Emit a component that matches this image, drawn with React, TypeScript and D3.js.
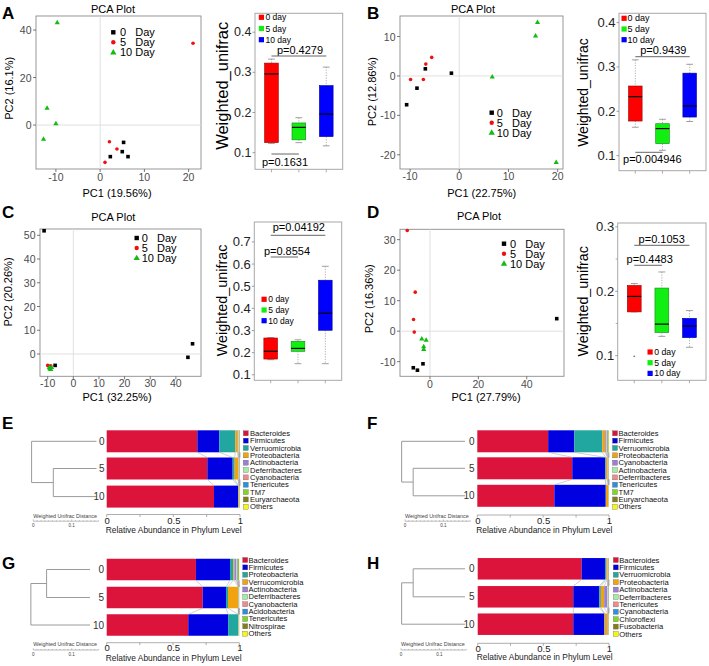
import React from "react";
import * as d3 from "d3";

const FONT = "'Liberation Sans', Arial, Helvetica, sans-serif";

// ---------------- PCA scores [PC1, PC2] ----------------
const dayLabels = ["0", "5", "10"];
const pcaA0 = [[5.3, -7.3], [5.0, -11.2], [2.3, -13.3], [6.3, -13.3]];
const pcaA5 = [[21.0, 34.4], [2.1, -7.0], [3.8, -10.1], [1.1, -15.7]];
const pcaA10 = [[-9.7, 43.2], [-12.0, 7.2], [-10.0, 0.7], [-12.8, -5.9]];
const pcaB0 = [[-10.7, -7.3], [-8.6, -3.1], [-6.9, 1.8], [-1.6, 0.7]];
const pcaB5 = [[-9.9, -0.9], [-7.3, -0.9], [-6.8, 3.0], [-5.6, 4.7]];
const pcaB10 = [[6.7, -0.2], [15.9, 13.6], [15.5, 10.2], [19.7, -21.9]];
const pcaC0 = [[-11.4, 51.9], [-7.1, -4.8], [44.7, -1.4], [46.5, 4.3]];
const pcaC5 = [[-10.0, -4.8], [-9.6, -5.1], [-9.2, -5.4], [-8.8, -5.0]];
const pcaC10 = [[-9.1, -6.2], [-8.5, -5.6], [-8.8, -6.4], [-9.4, -5.7]];
const pcaD0 = [[-6.9, -12.0], [-5.2, -12.8], [-2.9, -10.7], [52.4, 4.1]];
const pcaD5 = [[-9.4, 33.0], [-6.1, 12.8], [-6.8, 3.8], [-6.5, -0.3]];
const pcaD10 = [[-3.4, -2.5], [-1.6, -2.9], [-2.6, -5.0], [-2.6, -5.9]];

const pcaXTicksA = [-10, 0, 10, 20];
const pcaYTicksA = [0, 20, 40];
const pcaXTicksB = [-10, 0, 10, 20];
const pcaYTicksB = [-20, -10, 0, 10];
const pcaXTicksC = [-10, 0, 10, 20, 30, 40];
const pcaYTicksC = [0, 10, 20, 30, 40, 50];
const pcaXTicksD = [0, 20, 40];
const pcaYTicksD = [-10, 0, 10, 20, 30];
const pcaXLabels = ["PC1 (19.56%)", "PC1 (22.75%)", "PC1 (32.25%)", "PC1 (27.79%)"];
const pcaYLabels = ["PC2 (16.1%)", "PC2 (12.86%)", "PC2 (20.26%)", "PC2 (16.36%)"];

// ---------------- Weighted UniFrac boxes [min, q1, median, q3, max] ----------------
const boxGroups = ["0 day", "5 day", "10 day"];
const boxA = [[0.123, 0.125, 0.296, 0.323, 0.333], [0.125, 0.132, 0.163, 0.174, 0.187], [0.117, 0.14, 0.196, 0.267, 0.313]];
const boxB = [[0.164, 0.178, 0.233, 0.257, 0.316], [0.112, 0.127, 0.161, 0.172, 0.182], [0.177, 0.187, 0.212, 0.286, 0.306]];
const boxC = [[0.168, 0.171, 0.206, 0.266, 0.268], [0.15, 0.206, 0.219, 0.251, 0.258], [0.15, 0.301, 0.378, 0.527, 0.59]];
const boxD = [[0.168, 0.168, 0.192, 0.209, 0.212], [0.13, 0.136, 0.149, 0.205, 0.23], [0.113, 0.128, 0.146, 0.158, 0.17]];
const outlierD = [[0, 0.099]];
const boxTicksA = [0.1, 0.2, 0.3, 0.4];
const boxTicksB = [0.1, 0.2, 0.3, 0.4];
const boxTicksC = [0.1, 0.2, 0.3, 0.4, 0.5, 0.6, 0.7];
const boxTicksD = [0.1, 0.2, 0.3];
const boxMinorD = [0.15, 0.25];
const pA = ["p=0.4279", "p=0.1631"];
const pB = ["p=0.9439", "p=0.004946"];
const pC = ["p=0.04192", "p=0.8554"];
const pD = ["p=0.1053", "p=0.4483"];

// ---------------- Phylum composition ----------------
const sampleLabels = ["0", "5", "10"];
const phylaE = ["Bacteroides", "Firmicutes", "Verruomicrobia", "Proteobacteria", "Actinobacteria", "Deferribacteres", "Cyanobacteria", "Tenericutes", "TM7", "Euryarchaeota", "Others"];
const phylaF = ["Bacteroides", "Firmicutes", "Verruomicrobia", "Proteobacteria", "Cyanobacteria", "Actinobacteria", "Deferribacteres", "Tenericutes", "TM7", "Euryarchaeota", "Others"];
const phylaG = ["Bacteroides", "Firmicutes", "Proteobacteria", "Verrucomicrobia", "Actinobacteria", "Deferribacteres", "Cyanobacteria", "Acidobacteria", "Tenericutes", "Nitrospirae", "Others"];
const phylaH = ["Bacteroides", "Firmicutes", "Verruomicrobia", "Proteobacteria", "Actinobacteria", "Deferribacteres", "Tenericutes", "Cyanobacteria", "Chloroflexi", "Fusobacteria", "Others"];
const stackE = [
  [0.68, 0.165, 0.12, 0.018, 0.004, 0.004, 0.003, 0.002, 0.001, 0.002, 0.001],
  [0.755, 0.19, 0.015, 0.025, 0.004, 0.003, 0.002, 0.002, 0.001, 0.002, 0.001],
  [0.805, 0.18, 0.002, 0.005, 0.002, 0.001, 0.001, 0.001, 0.001, 0.001, 0.001],
];
const stackF = [
  [0.538, 0.198, 0.213, 0.022, 0.006, 0.005, 0.006, 0.004, 0.003, 0.003, 0.002],
  [0.721, 0.249, 0.006, 0.012, 0.003, 0.002, 0.002, 0.002, 0.001, 0.001, 0.001],
  [0.585, 0.39, 0.002, 0.016, 0.001, 0.001, 0.001, 0.001, 0.001, 0.001, 0.001],
];
const stackG = [
  [0.673, 0.257, 0.025, 0.008, 0.015, 0.005, 0.004, 0.003, 0.004, 0.004, 0.002],
  [0.724, 0.176, 0.015, 0.075, 0.003, 0.002, 0.001, 0.001, 0.001, 0.001, 0.001],
  [0.615, 0.301, 0.075, 0.002, 0.001, 0.001, 0.001, 0.001, 0.001, 0.001, 0.001],
];
const stackH = [
  [0.792, 0.178, 0.008, 0.008, 0.004, 0.002, 0.002, 0.001, 0.001, 0.003, 0.001],
  [0.728, 0.198, 0.012, 0.025, 0.025, 0.004, 0.002, 0.002, 0.001, 0.002, 0.001],
  [0.728, 0.236, 0.003, 0.022, 0.004, 0.001, 0.001, 0.001, 0.001, 0.002, 0.001],
];
// dendrogram merge heights [inner, root] (weighted UniFrac distance)
const dendE = [0.1125, 0.169];
const dendF = [0.135, 0.165];
const dendG = [0.113, 0.154];
const dendH = [0.135, 0.165];

// ---------------- styles ----------------
const pcaColors = ["#000000", "#EE1111", "#11BB11"];
const boxColors = ["#FF0000", "#11EE11", "#0000FF"];
const boxStroke = ["#990000", "#118811", "#000099"];
const phylumColors = ["#DC143C", "#0000E0", "#21A7A0", "#F2A20C", "#9B7FD6", "#A5EBA5", "#EE8C8C", "#2B8FE3", "#7ED626", "#7F7F1F", "#F5F516"];

function Marker({ kind, x, y, size, color }: any) {
  if (kind === 0) return <rect x={x - size / 2} y={y - size / 2} width={size} height={size} fill={color} />;
  if (kind === 1) return <circle cx={x} cy={y} r={size / 2} fill={color} />;
  const d = d3.symbol().type(d3.symbolTriangle).size(size * size * 0.55)() as string;
  return <path d={d} transform={`translate(${x},${y + 0.3})`} fill={color} />;
}

function PcaPanel({ c }: any) {
  const [x0, y0, x1, y1] = c.box;
  const xs = d3.scaleLinear().domain(c.xDomain).range([x0, x1]);
  const ys = d3.scaleLinear().domain(c.yDomain).range([y1, y0]);
  return (
    <g>
      <text x={c.letter[1]} y={c.letter[2]} fontSize={17} fontWeight="bold">{c.letter[0]}</text>
      <text x={c.title[0]} y={c.title[1]} fontSize={11} textAnchor="middle">PCA Plot</text>
      <rect x={x0} y={y0} width={x1 - x0} height={y1 - y0} fill="#fff" stroke="#8c8c8c" strokeWidth={0.9} />
      <line x1={xs(0)} x2={xs(0)} y1={y0} y2={y1} stroke="#dcdcdc" strokeWidth={0.9} />
      <line x1={x0} x2={x1} y1={ys(0)} y2={ys(0)} stroke="#dcdcdc" strokeWidth={0.9} />
      {c.xTicks.map((t: number) => (
        <g key={"x" + t}>
          <line x1={xs(t)} x2={xs(t)} y1={y1} y2={y1 + 3} stroke="#555" strokeWidth={0.8} />
          <text x={xs(t)} y={y1 + c.xTickDy} fontSize={10.5} fill="#4d4d4d" textAnchor="middle">{t}</text>
        </g>
      ))}
      {c.yTicks.map((t: number) => (
        <g key={"y" + t}>
          <line x1={x0 - 3} x2={x0} y1={ys(t)} y2={ys(t)} stroke="#555" strokeWidth={0.8} />
          <text x={x0 - 4.5} y={ys(t)} fontSize={10.5} fill="#4d4d4d" textAnchor="end" dominantBaseline="central">{t}</text>
        </g>
      ))}
      <text x={c.xLab[0]} y={c.xLab[1]} fontSize={11} textAnchor="middle">{c.xLabel}</text>
      <text transform={`translate(${c.yLab[0]},${c.yLab[1]}) rotate(-90)`} fontSize={11} textAnchor="middle" dominantBaseline="central">{c.yLabel}</text>
      {c.series.map((pts: number[][], g: number) =>
        pts.map((p, i) => (
          <Marker key={g + "-" + i} kind={g} x={xs(p[0])} y={ys(p[1])} size={g === 2 ? 4.6 : 3.6} color={pcaColors[g]} />
        ))
      )}
      {dayLabels.map((d, g) => (
        <g key={"l" + d}>
          <Marker kind={g} x={c.legend[0]} y={c.legend[1] + g * 10} size={g === 2 ? 5.6 : 4.4} color={pcaColors[g]} />
          <text x={c.legend[2]} y={c.legend[1] + g * 10} fontSize={11} dominantBaseline="central">{d}</text>
          <text x={c.legend[2] + 15.3} y={c.legend[1] + g * 10} fontSize={11} dominantBaseline="central">Day</text>
        </g>
      ))}
    </g>
  );
}

function BoxPanel({ c }: any) {
  const [x0, y0, x1, y1] = c.frame;
  const xs = d3.scalePoint<string>().domain(boxGroups).range([x0, x1]).padding(0.6);
  const ys = d3.scaleLinear().domain(c.yDomain).range([y1, y0]);
  const bw = xs.step() * 0.5;
  const cx = (i: number) => xs(boxGroups[i]) as number;
  return (
    <g>
      <rect x={x0} y={y0} width={x1 - x0} height={y1 - y0} fill="#fff" stroke="#a8a8a8" strokeWidth={1} />
      {c.ticks.map((t: number) => (
        <g key={"t" + t}>
          <line x1={x0 - 2.5} x2={x0} y1={ys(t)} y2={ys(t)} stroke="#888" strokeWidth={0.8} />
          <text x={x0 - 3.5} y={ys(t)} fontSize={c.tickFont} textAnchor="end" dominantBaseline="central" fill="#222">{t}</text>
        </g>
      ))}
      {(c.minor || []).map((t: number) => (
        <line key={"m" + t} x1={x0 - 2} x2={x0} y1={ys(t)} y2={ys(t)} stroke="#999" strokeWidth={0.8} />
      ))}
      {boxGroups.map((g, i) => (
        <line key={"xt" + g} x1={cx(i)} x2={cx(i)} y1={y1} y2={y1 + 3} stroke="#999" strokeWidth={0.8} />
      ))}
      <text transform={`translate(${c.yTitle[0]},${c.yTitle[1]}) rotate(-90)`} fontSize={c.yTitle[2]} textAnchor="middle" dominantBaseline="central">Weighted_unifrac</text>
      {c.stats.map((s: number[], i: number) => (
        <g key={"b" + i}>
          <line x1={cx(i)} x2={cx(i)} y1={ys(s[4])} y2={ys(s[3])} stroke="#9a9a9a" strokeWidth={0.8} strokeDasharray="1.2 1.4" />
          <line x1={cx(i)} x2={cx(i)} y1={ys(s[1])} y2={ys(s[0])} stroke="#9a9a9a" strokeWidth={0.8} strokeDasharray="1.2 1.4" />
          <line x1={cx(i) - bw / 4} x2={cx(i) + bw / 4} y1={ys(s[4])} y2={ys(s[4])} stroke="#888" strokeWidth={0.8} />
          <line x1={cx(i) - bw / 4} x2={cx(i) + bw / 4} y1={ys(s[0])} y2={ys(s[0])} stroke="#888" strokeWidth={0.8} />
          <rect x={cx(i) - bw / 2} y={ys(s[3])} width={bw} height={ys(s[1]) - ys(s[3])} fill={boxColors[i]} stroke={boxStroke[i]} strokeWidth={0.6} />
          <line x1={cx(i) - bw / 2} x2={cx(i) + bw / 2} y1={ys(s[2])} y2={ys(s[2])} stroke="#000" strokeWidth={1.2} />
        </g>
      ))}
      {(c.outliers || []).map((o: number[], k: number) => (
        <circle key={"o" + k} cx={cx(o[0])} cy={ys(o[1])} r={0.9} fill="#777" />
      ))}
      {boxGroups.map((g, i) => (
        <g key={"lg" + g}>
          <rect x={c.legend[0]} y={c.legend[1] + i * c.legend[3] - 2.6} width={5.2} height={5.2} fill={boxColors[i]} />
          <text x={c.legend[2]} y={c.legend[1] + i * c.legend[3]} fontSize={c.legend[4]} dominantBaseline="central">{g}</text>
        </g>
      ))}
      {c.pvals.map((p: any, k: number) => (
        <g key={"p" + k}>
          <text x={p.cx} y={p.by} fontSize={11} textAnchor="middle">{c.ptext[k]}</text>
          <line x1={cx(p.a)} x2={cx(p.b)} y1={p.ly} y2={p.ly} stroke="#666" strokeWidth={1} />
        </g>
      ))}
    </g>
  );
}

function StackPanel({ c }: any) {
  const [bx0, bx1] = c.barX;
  const xs = d3.scaleLinear().domain([0, 1]).range([bx0, bx1]);
  const ds = d3.scaleLinear().domain([0, 0.1]).range([c.leafX, c.leafX - 38.4]);
  const cums = c.values.map((row: number[]) => {
    let acc = 0;
    return [0, ...row.map((v) => (acc += v))];
  });
  const rows: number[] = c.rows;
  const h = c.barH;
  const [inner, root] = c.dend;
  const lx = c.leafX;
  let dendLines: number[][] = [];
  if (c.loneFirst) {
    const ym = (rows[1] + rows[2]) / 2;
    dendLines = [
      [ds(inner), rows[1], lx, rows[1]],
      [ds(inner), rows[2], lx, rows[2]],
      [ds(inner), rows[1], ds(inner), rows[2]],
      [ds(root), ym, ds(inner), ym],
      [ds(root), rows[0], lx, rows[0]],
      [ds(root), rows[0], ds(root), ym],
    ];
  } else {
    const ym = (rows[0] + rows[1]) / 2;
    dendLines = [
      [ds(inner), rows[0], lx, rows[0]],
      [ds(inner), rows[1], lx, rows[1]],
      [ds(inner), rows[0], ds(inner), rows[1]],
      [ds(root), ym, ds(inner), ym],
      [ds(root), rows[2], lx, rows[2]],
      [ds(root), ym, ds(root), rows[2]],
    ];
  }
  const sb = d3.scaleLinear().domain([0, 0.1]).range([c.scale[0], c.scale[0] + 38.4]);
  const minor = d3.range(0, 18).map((i) => i / 100);
  return (
    <g>
      <text x={c.letter[1]} y={c.letter[2]} fontSize={17} fontWeight="bold">{c.letter[0]}</text>
      {dendLines.map((l, k) => (
        <line key={"d" + k} x1={l[0]} y1={l[1]} x2={l[2]} y2={l[3]} stroke="#9a9a9a" strokeWidth={1} />
      ))}
      {sampleLabels.map((s, i) => (
        <text key={"s" + s} x={c.labelX} y={rows[i]} fontSize={10} textAnchor="end" dominantBaseline="central" fill="#333">{s}</text>
      ))}
      {cums.map((cum: number[], r: number) =>
        c.values[r].map((v: number, k: number) => (
          <rect key={r + "-" + k} x={xs(cum[k])} y={rows[r] - h / 2} width={Math.max(0, xs(cum[k + 1]) - xs(cum[k]))} height={h} fill={phylumColors[k]} />
        ))
      )}
      {[0, 1].map((r) =>
        cums[r].slice(1).map((v: number, k: number) => (
          <line key={"c" + r + "-" + k} x1={xs(v)} y1={rows[r] + h / 2} x2={xs(cums[r + 1][k + 1])} y2={rows[r + 1] - h / 2} stroke="#a0a0a0" strokeWidth={0.5} />
        ))
      )}
      <line x1={bx0} x2={bx1} y1={c.axisY} y2={c.axisY} stroke="#999" strokeWidth={0.8} />
      {[0, 0.25, 0.5, 0.75, 1].map((t) => (
        <line key={"at" + t} x1={xs(t)} x2={xs(t)} y1={c.axisY} y2={c.axisY + 2.5} stroke="#999" strokeWidth={0.8} />
      ))}
      {[0, 0.5, 1].map((t) => (
        <text key={"al" + t} x={xs(t) + 0.5} y={c.tickY} fontSize={9.5} textAnchor="middle" fill="#222">{t}</text>
      ))}
      <text x={bx0 - 1} y={c.titleY} fontSize={8.4} fill="#222">Relative Abundance in Phylum Level</text>
      {c.names.map((n: string, i: number) => (
        <g key={"n" + n}>
          <rect x={c.legend[0]} y={c.legend[2] + i * c.legend[3] - 2.5} width={5} height={5} fill={phylumColors[i]} stroke="#555" strokeWidth={0.3} />
          <text x={c.legend[1]} y={c.legend[2] + i * c.legend[3]} fontSize={7.6} dominantBaseline="central" fill="#111">{n}</text>
        </g>
      ))}
      <text x={c.scale[0]} y={c.scale[1]} fontSize={5.4} fill="#444">Weighted Unifrac Distance</text>
      <line x1={sb(0)} x2={sb(0.17)} y1={c.scale[2]} y2={c.scale[2]} stroke="#777" strokeWidth={0.5} />
      {minor.map((m) => (
        <line key={"sb" + m} x1={sb(m)} x2={sb(m)} y1={c.scale[2] - (m === 0 || Math.abs(m - 0.1) < 1e-9 ? 1.8 : 1)} y2={c.scale[2]} stroke="#777" strokeWidth={0.4} />
      ))}
      {[0, 0.1].map((t) => (
        <text key={"sl" + t} x={sb(t)} y={c.scale[3]} fontSize={4.6} textAnchor="middle" fill="#444">{t}</text>
      ))}
    </g>
  );
}

const pcaPanels = [
  { letter: ["A", 2, 18.5], title: [113, 12.5], box: [36, 16, 201, 169], xDomain: [-14.5, 22.8], yDomain: [-18.5, 45.9], xTicks: pcaXTicksA, yTicks: pcaYTicksA, xTickDy: 11.5, xLab: [117, 197], yLab: [8.7, 88.3], xLabel: pcaXLabels[0], yLabel: pcaYLabels[0], series: [pcaA0, pcaA5, pcaA10], legend: [113.3, 32.3, 120] },
  { letter: ["B", 367, 18.5], title: [473, 12.5], box: [400, 16, 563, 169], xDomain: [-12.05, 21.08], yDomain: [-23.6, 15.2], xTicks: pcaXTicksB, yTicks: pcaYTicksB, xTickDy: 10.5, xLab: [481.7, 196.7], yLab: [371.7, 91.7], xLabel: pcaXLabels[1], yLabel: pcaYLabels[1], series: [pcaB0, pcaB5, pcaB10], legend: [491.7, 112.7, 496.7] },
  { letter: ["C", 2, 217.5], title: [113.3, 220.5], box: [40, 229, 201, 376.3], xDomain: [-13.0, 49.8], yDomain: [-9.4, 52.65], xTicks: pcaXTicksC, yTicks: pcaYTicksC, xTickDy: 10.8, xLab: [117, 401.3], yLab: [8.3, 292], xLabel: pcaXLabels[2], yLabel: pcaYLabels[2], series: [pcaC0, pcaC5, pcaC10], legend: [136.7, 238, 141.7] },
  { letter: ["D", 367, 217.5], title: [479, 220], box: [400, 229.3, 564, 376.3], xDomain: [-12.4, 55.4], yDomain: [-14.8, 33.4], xTicks: pcaXTicksD, yTicks: pcaYTicksD, xTickDy: 11.2, xLab: [486, 401.3], yLab: [369, 298.8], xLabel: pcaXLabels[3], yLabel: pcaYLabels[3], series: [pcaD0, pcaD5, pcaD10], legend: [504, 243.7, 510] },
];

const boxPanels = [
  { frame: [255, 13.3, 342.7, 169.3], yDomain: [0.0586, 0.447], ticks: boxTicksA, tickFont: 12.5, yTitle: [221.7, 85.8, 16.5], stats: boxA, legend: [258.8, 17.3, 265.5, 11.2, 8.5], ptext: pA, pvals: [{ cx: 300, by: 54, a: 0, b: 2, ly: 56 }, { cx: 285, by: 166, a: 0, b: 1, ly: 154 }] },
  { frame: [619, 13.3, 706, 170.7], yDomain: [0.066, 0.421], ticks: boxTicksB, tickFont: 13, yTitle: [583.3, 92.5, 14], stats: boxB, legend: [621.5, 18.3, 627.5, 10.7, 9], ptext: pB, pvals: [{ cx: 663.3, by: 54, a: 0, b: 2, ly: 56.7 }, { cx: 652.3, by: 163, a: 0, b: 1, ly: 152.3 }] },
  { frame: [254.3, 222, 341.7, 380.3], yDomain: [0.075, 0.79], ticks: boxTicksC, tickFont: 13, yTitle: [221.7, 300.5, 14.4], stats: boxC, legend: [261.5, 299.3, 268.3, 10.7, 8.5], ptext: pC, pvals: [{ cx: 298.8, by: 231, a: 0, b: 2, ly: 235.3 }, { cx: 287, by: 254.7, a: 0, b: 1, ly: 257 }] },
  { frame: [617.7, 223, 706, 380.3], yDomain: [0.0618, 0.306], ticks: boxTicksD, minor: boxMinorD, tickFont: 13, yTitle: [583.3, 301.3, 14.2], stats: boxD, outliers: outlierD, legend: [647.5, 352, 654.3, 10.7, 8.7], ptext: pD, pvals: [{ cx: 661.7, by: 242.7, a: 0, b: 2, ly: 245.3 }, { cx: 649.7, by: 262.7, a: 0, b: 1, ly: 265.3 }] },
];

const stackPanels = [
  { letter: ["E", 2, 428.5], names: phylaE, values: stackE, dend: dendE, loneFirst: true, barX: [106.7, 240], rows: [441.3, 468.5, 496.6], barH: 22, axisY: 514.5, tickY: 524.3, titleY: 533, legend: [243.3, 250, 433.3, 7.35], leafX: 96.5, labelX: 104.5, scale: [33.3, 517.6, 521.2, 527.2] },
  { letter: ["F", 367, 428.5], names: phylaF, values: stackF, dend: dendF, loneFirst: true, barX: [477.3, 609], rows: [441.3, 468.3, 495.8], barH: 22, axisY: 515, tickY: 524.3, titleY: 533.3, legend: [612.5, 618.5, 433.3, 7.35], leafX: 465, labelX: 474.5, scale: [405, 517.6, 521.2, 527.2] },
  { letter: ["G", 2, 568.5], names: phylaG, values: stackG, dend: dendG, loneFirst: false, barX: [106.7, 239.3], rows: [569.5, 597.5, 625], barH: 21.5, axisY: 642.7, tickY: 651.2, titleY: 660.5, legend: [242.7, 248.5, 560, 7.37], leafX: 90, labelX: 104, scale: [33.3, 646.3, 650, 655.7] },
  { letter: ["H", 367, 568.5], names: phylaH, values: stackH, dend: dendH, loneFirst: false, barX: [477.7, 609], rows: [568.8, 596.8, 624.2], barH: 21.5, axisY: 643.3, tickY: 651.5, titleY: 659.5, legend: [613.3, 619.3, 560, 7.4], leafX: 465, labelX: 474.5, scale: [401, 646.3, 650, 655.7] },
];

export default function App() {
  return (
    <svg width={709} height={666} viewBox="0 0 709 666" style={{ position: "absolute", left: 0, top: 0, background: "#fff" }} fontFamily={FONT}>
      <rect x={0} y={0} width={709} height={666} fill="#fff" />
      {pcaPanels.map((c, i) => <PcaPanel key={"pca" + i} c={c} />)}
      {boxPanels.map((c, i) => <BoxPanel key={"box" + i} c={c} />)}
      {stackPanels.map((c, i) => <StackPanel key={"st" + i} c={c} />)}
    </svg>
  );
}
